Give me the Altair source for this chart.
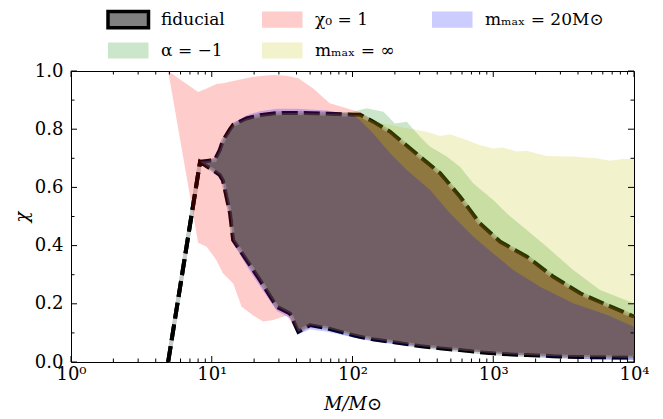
import altair as alt
import pandas as pd

# ---------------- data ----------------
FID_M = [4.9, 8.26, 10.5, 11.4, 12, 13.5, 14.2, 17.7, 22, 29, 36, 41.2, 50, 66,
         100, 113, 140, 185, 300, 420, 580, 800, 1120, 1730, 2670, 4140, 6400, 10000]
FID_UP = [0.0, 0.688, 0.694, 0.728, 0.76, 0.80, 0.815, 0.837, 0.848, 0.855, 0.856, 0.856, 0.855, 0.853,
          0.85, 0.85, 0.826, 0.791, 0.706, 0.648, 0.568, 0.477, 0.413, 0.362, 0.293, 0.236, 0.196, 0.156]
FID_LO = [0.0, 0.688, 0.655, 0.643, 0.625, 0.511, 0.419, 0.35, 0.282, 0.19, 0.167, 0.104, 0.127, 0.116,
          0.093, 0.087, 0.078, 0.070, 0.055, 0.047, 0.041, 0.034, 0.028, 0.024, 0.020, 0.017, 0.016, 0.015]

RED_M = [4.9, 8.0, 9.2, 10.8, 12, 14.2, 16.3, 19.7, 23.2, 27.4, 34, 41.2, 52.6, 69,
         100, 113, 140, 185, 300, 420, 580, 800, 1120, 1730, 2670, 4140, 6400, 10000]
RED_UP = [1.0, 0.928, 0.94, 0.955, 0.958, 0.966, 0.972, 0.98, 0.984, 0.986, 0.984, 0.975, 0.94, 0.889,
          0.866, 0.858, 0.826, 0.791, 0.706, 0.648, 0.568, 0.477, 0.413, 0.362, 0.293, 0.236, 0.196, 0.156]
RED_LO = [1.0, 0.41, 0.396, 0.35, 0.305, 0.27, 0.19, 0.16, 0.139, 0.144, 0.16, 0.104, 0.125, 0.115,
          0.093, 0.087, 0.078, 0.070, 0.055, 0.047, 0.041, 0.034, 0.028, 0.024, 0.020, 0.017, 0.016, 0.015]

GREEN_M = [4.9, 8.26, 10.5, 11.4, 12, 13.5, 14.2, 17.7, 22, 29, 36, 41.2, 50, 66,
           100, 126, 166, 200, 243, 302, 356, 467, 580, 720, 1000, 1245, 1730, 2400, 3700, 5730, 10000]
GREEN_UP = [0.0, 0.688, 0.694, 0.728, 0.76, 0.80, 0.815, 0.837, 0.848, 0.855, 0.856, 0.856, 0.855, 0.853,
            0.86, 0.872, 0.86, 0.82, 0.826, 0.774, 0.74, 0.706, 0.671, 0.614, 0.557, 0.511, 0.454, 0.396,
            0.316, 0.247, 0.202]
GREEN_LO = [0.0, 0.688, 0.655, 0.643, 0.625, 0.511, 0.419, 0.35, 0.282, 0.19, 0.167, 0.104, 0.127, 0.116,
            0.093, 0.082, 0.073, 0.068, 0.062, 0.055, 0.051, 0.045, 0.041, 0.036, 0.031, 0.027, 0.024, 0.021,
            0.018, 0.016, 0.015]

YELLOW_M = [4.9, 8.26, 10.5, 11.4, 12, 13.5, 14.2, 17.7, 22, 29, 36, 41.2, 50, 66,
            100, 113, 140, 166, 243, 336, 419, 490, 647, 800, 1000, 1170, 1466, 1720, 2400, 3700,
            5430, 6760, 8300, 10000]
YELLOW_UP = [0.0, 0.688, 0.694, 0.728, 0.76, 0.80, 0.815, 0.837, 0.848, 0.855, 0.856, 0.856, 0.855, 0.853,
             0.85, 0.85, 0.83, 0.82, 0.803, 0.791, 0.777, 0.783, 0.763, 0.746, 0.734, 0.737, 0.723, 0.726,
             0.708, 0.706, 0.70, 0.692, 0.698, 0.698]
YELLOW_LO = [0.0, 0.688, 0.655, 0.643, 0.625, 0.511, 0.419, 0.35, 0.282, 0.19, 0.167, 0.104, 0.127, 0.116,
             0.093, 0.087, 0.078, 0.073, 0.062, 0.052, 0.047, 0.044, 0.038, 0.034, 0.031, 0.028, 0.026, 0.024,
             0.021, 0.018, 0.016, 0.016, 0.015, 0.015]

BLUE_M = [4.9, 8.26, 10.5, 11.4, 12, 13.5, 14.2, 17.7, 22, 29, 36, 41.2, 50, 66,
          100, 113, 140, 185, 243, 356, 493, 720, 1000, 1390, 2150, 3700, 6400, 10000]
BLUE_UP = [0.0, 0.69, 0.70, 0.74, 0.765, 0.805, 0.82, 0.848, 0.862, 0.87, 0.87, 0.87, 0.868, 0.864,
           0.85, 0.832, 0.786, 0.717, 0.66, 0.591, 0.511, 0.431, 0.373, 0.316, 0.259, 0.202, 0.162, 0.121]
BLUE_LO = [0.0, 0.69, 0.65, 0.635, 0.615, 0.50, 0.41, 0.33, 0.26, 0.175, 0.15, 0.095, 0.112, 0.104,
           0.085, 0.08, 0.072, 0.064, 0.057, 0.049, 0.043, 0.036, 0.030, 0.025, 0.019, 0.012, 0.008, 0.006]

# legend entries (column-major order, as in the reference)
LEGEND_LABELS = ["fiducial", "α = −1", "χ₀ = 1", "mₘₐₓ = ∞", "mₘₐₓ = 20M⊙"]
LEGEND_FILLS = ["#808080", "#cce6cc", "#ffcccc", "#f2f2cc", "#ccccff"]
LEGEND_STROKES = ["black", "transparent", "transparent", "transparent", "transparent"]

XTICKS = [1, 10, 100, 1000, 10000]
XTICK_LABELS = ["10⁰", "10¹", "10²", "10³", "10⁴"]
XMINOR = [m * 10 ** e for e in range(4) for m in range(2, 10)]
YTICKS = [0.0, 0.2, 0.4, 0.6, 0.8, 1.0]
YMINOR = [0.1, 0.3, 0.5, 0.7, 0.9]

# ---------------- styling ----------------
W, H = 563, 291
FONT = "DejaVu Serif"
FS = 18

XSCALE = alt.Scale(type="log", domain=[1, 10000], nice=False)
YSCALE = alt.Scale(domain=[0, 1], nice=False, zero=False)

label_expr = "[" + ",".join("'%s'" % s for s in XTICK_LABELS) + "][round(log(datum.value)/LN10)]"

XAXIS = alt.Axis(values=XTICKS, labelExpr=label_expr, ticks=False, tickSize=0, domain=False, grid=False,
                 labelFlush=False, labelOverlap=False, labelPadding=3, labelFontSize=FS, labelFont=FONT,
                 labelColor="black", title="M/M⊙", titleFont=FONT, titleFontSize=FS,
                 titleFontStyle="italic", titleFontWeight="normal", titleColor="black", titlePadding=12)
YAXIS = alt.Axis(values=YTICKS, format=".1f", ticks=False, tickSize=0, domain=False, grid=False,
                 labelFlush=False, labelOverlap=False, labelPadding=8, labelFontSize=FS, labelFont=FONT,
                 labelColor="black", title="χ", titleFont=FONT, titleFontSize=FS,
                 titleFontStyle="italic", titleFontWeight="normal", titleColor="black", titlePadding=3)


def xenc(f):
    return alt.X(f + ":Q", scale=XSCALE, axis=XAXIS)


def yenc(f):
    return alt.Y(f + ":Q", scale=YSCALE, axis=YAXIS)


def band(m, lo, up):
    return pd.DataFrame({"M": m, "lo": lo, "up": up})


fid = band(FID_M, FID_LO, FID_UP)

layers = []
# fiducial fill (opaque grey)
layers.append(alt.Chart(fid).mark_area(fill="#808080", opacity=1)
              .encode(x=xenc("M"), y=yenc("up"), y2=alt.Y2("lo")))
# fiducial edge: light under-line and black dashes
for col in ["up", "lo"]:
    layers.append(alt.Chart(fid).mark_line(color="#c4cccc", strokeWidth=4)
                  .encode(x=xenc("M"), y=yenc(col)))
for col in ["up", "lo"]:
    layers.append(alt.Chart(fid).mark_line(color="black", strokeWidth=4, strokeDash=[16, 6])
                  .encode(x=xenc("M"), y=yenc(col)))

# translucent bands
for m, lo, up, c in [(GREEN_M, GREEN_LO, GREEN_UP, "#008000"),
                     (RED_M, RED_LO, RED_UP, "#ff0000"),
                     (YELLOW_M, YELLOW_LO, YELLOW_UP, "#bfbf00"),
                     (BLUE_M, BLUE_LO, BLUE_UP, "#0000ff")]:
    layers.append(alt.Chart(band(m, lo, up)).mark_area(fill=c, fillOpacity=0.2)
                  .encode(x=xenc("M"), y=yenc("up"), y2=alt.Y2("lo")))

# inward ticks on all four sides
for vals, L in [(XTICKS, 6), (XMINOR, 3.5)]:
    d = pd.DataFrame({"v": vals})
    layers.append(alt.Chart(d).mark_rule(color="black", strokeWidth=1)
                  .encode(x=xenc("v"), y=alt.value(H), y2=alt.value(H - L)))
    layers.append(alt.Chart(d).mark_rule(color="black", strokeWidth=1)
                  .encode(x=xenc("v"), y=alt.value(0), y2=alt.value(L)))
for vals, L in [(YTICKS, 6), (YMINOR, 3.5)]:
    d = pd.DataFrame({"v": vals})
    layers.append(alt.Chart(d).mark_rule(color="black", strokeWidth=1)
                  .encode(y=yenc("v"), x=alt.value(0), x2=alt.value(L)))
    layers.append(alt.Chart(d).mark_rule(color="black", strokeWidth=1)
                  .encode(y=yenc("v"), x=alt.value(W), x2=alt.value(W - L)))

# legend (drawn from an empty layer, so only the legend appears)
SWATCH = "M-1,-0.6H2V0.6H-1Z"
LEG = alt.Legend(orient="none", legendX=35, legendY=-67, columns=3, title=None,
                 symbolType=SWATCH, symbolSize=729, symbolStrokeWidth=3.5, symbolOpacity=1,
                 labelFont=FONT, labelFontSize=17, labelColor="black", labelOffset=24,
                 columnPadding=30, rowPadding=0, padding=0, labelLimit=400)
leg_df = pd.DataFrame({"series": LEGEND_LABELS})
layers.append(alt.Chart(leg_df).transform_filter("false")
              .mark_point(shape=SWATCH, filled=True, size=729, opacity=1)
              .encode(fill=alt.Fill("series:N", scale=alt.Scale(domain=LEGEND_LABELS, range=LEGEND_FILLS),
                                    legend=LEG),
                      stroke=alt.Stroke("series:N",
                                        scale=alt.Scale(domain=LEGEND_LABELS, range=LEGEND_STROKES),
                                        legend=LEG)))

chart = (alt.layer(*layers)
         .properties(width=W, height=H, autosize=alt.AutoSizeParams(type="none"),
                     padding={"left": 71, "top": 71, "right": 29, "bottom": 57})
         .configure(font=FONT, background="white")
         .configure_view(stroke="black", strokeWidth=1))

chart.save("out.html", embed_options={"renderer": "svg", "actions": False})
